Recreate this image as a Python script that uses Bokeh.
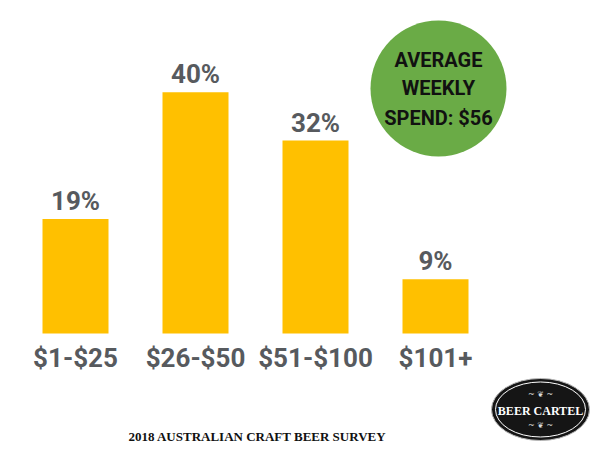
from bokeh.plotting import figure
from bokeh.models import Range1d
from bokeh.core.properties import value
from bokeh.embed import file_html
from bokeh.resources import INLINE

# ---- data ----
categories = ["$1-$25", "$26-$50", "$51-$100", "$101+"]
shares = [19, 40, 32, 9]
share_labels = ["19%", "40%", "32%", "9%"]
avg_lines = ["AVERAGE", "WEEKLY", "SPEND: $56"]
survey_title = "2018 AUSTRALIAN CRAFT BEER SURVEY"
brand = "BEER CARTEL"

W, H = 600, 451
PX_PER_CAT = 120.0
PX_PER_PCT = 6.03
BASE_PX = 333.0          # screen y of the zero line
FIRST_CENTER_PX = 75.0   # screen x of the first bar centre

x0 = -FIRST_CENTER_PX / PX_PER_CAT
x1 = x0 + W / PX_PER_CAT
y1 = BASE_PX / PX_PER_PCT
y0 = -(H - BASE_PX) / PX_PER_PCT

def sx(px):
    return x0 + px / PX_PER_CAT

def sy(py):
    return (BASE_PX - py) / PX_PER_PCT

p = figure(width=W, height=H, output_backend="svg", toolbar_location=None,
           x_range=Range1d(x0, x1), y_range=Range1d(y0, y1),
           min_border=0, min_border_left=0, min_border_right=0,
           min_border_top=0, min_border_bottom=0)
p.axis.visible = False
p.grid.visible = False
p.outline_line_color = None
p.background_fill_color = "white"
p.border_fill_color = "white"

xs = list(range(len(categories)))
FONT = value("Roboto")
GRAY = "#575a5e"

p.vbar(x=xs, top=shares, bottom=0, width=0.55, fill_color="#FFC000", line_color=None)

p.text(x=xs, y=shares, text=share_labels, text_font=FONT, text_font_style="bold",
       text_font_size="26px", text_color=GRAY, text_align="center",
       text_baseline="alphabetic", y_offset=-18)

p.text(x=xs, y=[0] * len(xs), text=categories, text_font=FONT, text_font_style="bold",
       text_font_size="26px", text_color=GRAY, text_align="center",
       text_baseline="alphabetic", y_offset=24)

# average spend badge
cx, cy = sx(438), sy(88)
p.circle(x=[cx], y=[cy], radius=68, radius_units="screen",
         fill_color="#6AAB46", line_color=None)
p.text(x=[cx] * 3, y=[cy] * 3, text=avg_lines, text_font=FONT, text_font_style="bold",
       text_font_size="20px", text_color="#111111", text_align="center",
       text_baseline="alphabetic", y_offset=[-29, -1, 29])

# survey title
p.text(x=[sx(257)], y=[sy(436)], text=[survey_title], text_font=value("Liberation Serif"),
       text_font_style="bold", text_font_size="13px", text_color="#111111",
       text_align="center", text_baseline="middle")

# logo
lx, ly = sx(540), sy(409)
p.ellipse(x=[lx], y=[ly], width=98, height=62, width_units="screen", height_units="screen",
          fill_color="#151515", line_color="#bbbbbb", line_width=1)
p.ellipse(x=[lx], y=[ly], width=90, height=55, width_units="screen", height_units="screen",
          fill_color=None, line_color="white", line_width=1)
p.text(x=[lx], y=[ly], text=[brand], text_font=value("Liberation Serif"),
       text_font_style="bold", text_font_size="12px", text_color="white",
       text_align="center", text_baseline="middle", y_offset=1)
p.text(x=[lx, lx], y=[ly, ly], text=["~ ❦ ~", "~ ❦ ~"], text_font=value("DejaVu Sans"),
       text_font_size="8px", text_color="#dddddd", text_align="center",
       text_baseline="middle", y_offset=[-15, 16])

open("out.html", "w").write(file_html(p, INLINE))
